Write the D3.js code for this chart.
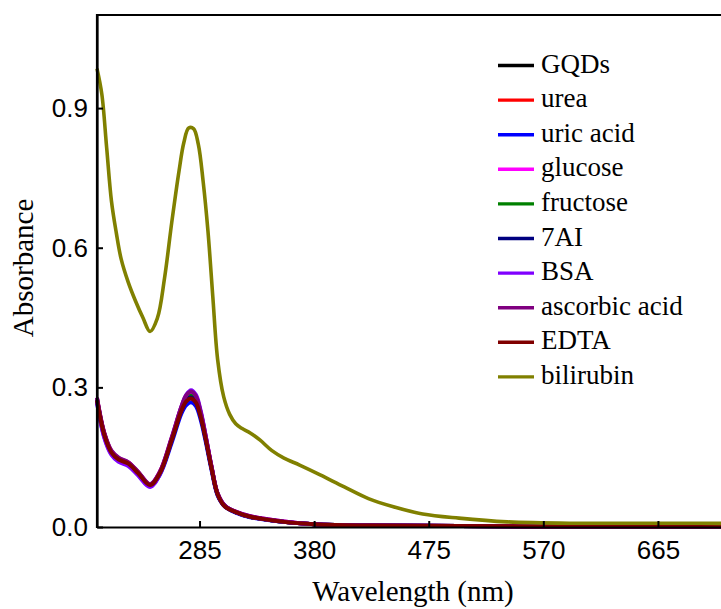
<!DOCTYPE html>
<html>
<head>
<meta charset="utf-8">
<script src="https://cdn.jsdelivr.net/npm/d3@7"></script>
<style>
  body { margin: 0; background: #fff; }
  svg { display: block; }
</style>
</head>
<body>
<div id="chart"></div>
<script>
// wavelength grids (nm)
const wlGqd = [200,206,212,218,226,234,244,252,262,270,274,278,282,286,290,295,300,306,315,327,355,380,425,500,600,700,800];
const wlBili = [200,204,208,212,216,220,226,232,238,244,250,256,262,268,272,276,280,284,288,292,296,300,305,310,315,320,327,335,345,355,368,385,405,425,445,470,500,540,600,700,800];

// absorbance, one array per sample
const gqds      = [0.275,0.200,0.161,0.146,0.137,0.117,0.091,0.116,0.189,0.253,0.273,0.280,0.271,0.239,0.192,0.127,0.071,0.045,0.032,0.022,0.011,0.006,0.003,0.002,0.001,0.001,0.001];
const urea      = [0.276,0.201,0.162,0.147,0.138,0.118,0.091,0.117,0.190,0.256,0.277,0.284,0.275,0.242,0.194,0.128,0.071,0.045,0.032,0.022,0.011,0.006,0.003,0.002,0.001,0.001,0.001];
const uricAcid  = [0.268,0.194,0.157,0.142,0.133,0.113,0.088,0.112,0.182,0.244,0.262,0.268,0.260,0.230,0.185,0.122,0.068,0.044,0.031,0.021,0.011,0.006,0.003,0.002,0.001,0.001,0.001];
const glucose   = [0.277,0.202,0.163,0.148,0.139,0.118,0.092,0.118,0.192,0.258,0.281,0.289,0.279,0.245,0.196,0.129,0.072,0.046,0.033,0.023,0.012,0.006,0.003,0.002,0.001,0.001,0.001];
const fructose  = [0.274,0.200,0.161,0.146,0.137,0.117,0.091,0.116,0.189,0.253,0.275,0.282,0.273,0.240,0.193,0.127,0.071,0.045,0.032,0.022,0.011,0.006,0.003,0.002,0.001,0.001,0.001];
const ai7       = [0.273,0.199,0.160,0.145,0.136,0.116,0.090,0.115,0.188,0.252,0.272,0.278,0.269,0.238,0.191,0.126,0.070,0.045,0.032,0.022,0.011,0.006,0.003,0.002,0.001,0.001,0.001];
const bsa       = [0.268,0.192,0.155,0.140,0.131,0.111,0.086,0.113,0.190,0.258,0.284,0.294,0.284,0.249,0.197,0.128,0.071,0.045,0.032,0.022,0.011,0.006,0.003,0.002,0.001,0.001,0.001];
const ascorbic  = [0.278,0.203,0.164,0.149,0.139,0.119,0.092,0.118,0.193,0.259,0.283,0.291,0.281,0.246,0.196,0.129,0.072,0.046,0.033,0.023,0.012,0.006,0.003,0.002,0.001,0.001,0.001];
const edta      = [0.272,0.198,0.160,0.145,0.136,0.116,0.090,0.115,0.187,0.250,0.270,0.276,0.267,0.236,0.190,0.125,0.070,0.044,0.032,0.022,0.011,0.006,0.003,0.002,0.001,0.001,0.001];
const bilirubin = [0.985,0.930,0.815,0.700,0.632,0.576,0.525,0.485,0.450,0.420,0.448,0.535,0.655,0.765,0.826,0.857,0.856,0.822,0.742,0.635,0.495,0.360,0.280,0.242,0.222,0.212,0.202,0.187,0.164,0.148,0.133,0.112,0.086,0.061,0.044,0.028,0.019,0.011,0.008,0.008,0.007];

const names  = ["GQDs","urea","uric acid","glucose","fructose","7AI","BSA","ascorbic acid","EDTA","bilirubin"];
const colors = ["#000000","#ff0000","#0000ff","#ff00ff","#008000","#000080","#8000ff","#800080","#800000","#808000"];
const xTicks = [285,380,475,570,665];
const yTicks = [0,0.3,0.6,0.9];

const series = [
  {x: wlGqd, y: gqds}, {x: wlGqd, y: urea}, {x: wlGqd, y: uricAcid},
  {x: wlGqd, y: glucose}, {x: wlGqd, y: fructose}, {x: wlGqd, y: ai7},
  {x: wlGqd, y: bsa}, {x: wlGqd, y: ascorbic}, {x: wlGqd, y: edta},
  {x: wlBili, y: bilirubin}
];

const width = 721, height = 609;
const mLeft = 97, mTop = 15, mBottom = 527;

const svg = d3.select("#chart").append("svg")
    .attr("width", width)
    .attr("height", height);

// image is cropped on the right, so the scale runs past the svg edge
const x = d3.scaleLinear().domain([200, 800]).range([mLeft, mLeft + 600 * 1.2063]);
const y = d3.scaleLinear().domain([0, 1.1]).range([mBottom, mTop]);

const line = d3.line()
    .x(d => x(d[0]))
    .y(d => y(d[1]))
    .curve(d3.curveCatmullRom.alpha(0.5));

const plot = svg.append("g");
series.forEach((s, i) => {
    plot.append("path")
        .datum(s.x.map((w, j) => [w, s.y[j]]))
        .attr("fill", "none")
        .attr("stroke", colors[i])
        .attr("stroke-width", i == 9 ? 3.6 : 4)
        .attr("stroke-linejoin", "round")
        .attr("d", line);
});

// axes (ticks point inward)
const xAxis = svg.append("g")
    .attr("transform", "translate(0," + mBottom + ")")
    .call(d3.axisBottom(x).tickValues(xTicks).tickSize(-6).tickPadding(10).tickSizeOuter(0));
const yAxis = svg.append("g")
    .attr("transform", "translate(" + mLeft + ",0)")
    .call(d3.axisLeft(y).tickValues(yTicks).tickSize(-6).tickPadding(9).tickSizeOuter(0)
        .tickFormat(d3.format(".1f")));

[xAxis, yAxis].forEach(a => {
    a.select(".domain").attr("stroke", "#000").attr("stroke-width", 2.2);
    a.selectAll(".tick line").attr("stroke", "#000").attr("stroke-width", 2);
    a.selectAll(".tick text")
        .attr("fill", "#000")
        .style("font-family", "'Liberation Sans', Arial, sans-serif")
        .style("font-size", "26px");
});
xAxis.selectAll(".tick text").attr("dy", "0.85em");

// top frame line
svg.append("line")
    .attr("x1", mLeft).attr("x2", width + 5)
    .attr("y1", mTop).attr("y2", mTop)
    .attr("stroke", "#000").attr("stroke-width", 2.2);
svg.append("line")
    .attr("x1", mLeft).attr("x2", mLeft)
    .attr("y1", mTop - 1).attr("y2", mBottom + 1)
    .attr("stroke", "#000").attr("stroke-width", 2.2);

// axis titles
svg.append("text")
    .attr("x", 413).attr("y", 601)
    .attr("text-anchor", "middle")
    .style("font-family", "'Liberation Serif', 'Times New Roman', serif")
    .style("font-size", "29px")
    .text("Wavelength (nm)");
svg.append("text")
    .attr("transform", "translate(33,268)rotate(-90)")
    .attr("text-anchor", "middle")
    .style("font-family", "'Liberation Serif', 'Times New Roman', serif")
    .style("font-size", "29px")
    .text("Absorbance");

// legend
const legend = svg.append("g").attr("transform", "translate(498,65.5)");
names.forEach((n, i) => {
    const g = legend.append("g").attr("transform", "translate(0," + (i * 34.6) + ")");
    g.append("line")
        .attr("x1", 0).attr("x2", 36)
        .attr("stroke", colors[i]).attr("stroke-width", 3.4);
    g.append("text")
        .attr("x", 43).attr("y", 7)
        .style("font-family", "'Liberation Serif', 'Times New Roman', serif")
        .style("font-size", "27px")
        .text(n);
});
</script>
</body>
</html>
